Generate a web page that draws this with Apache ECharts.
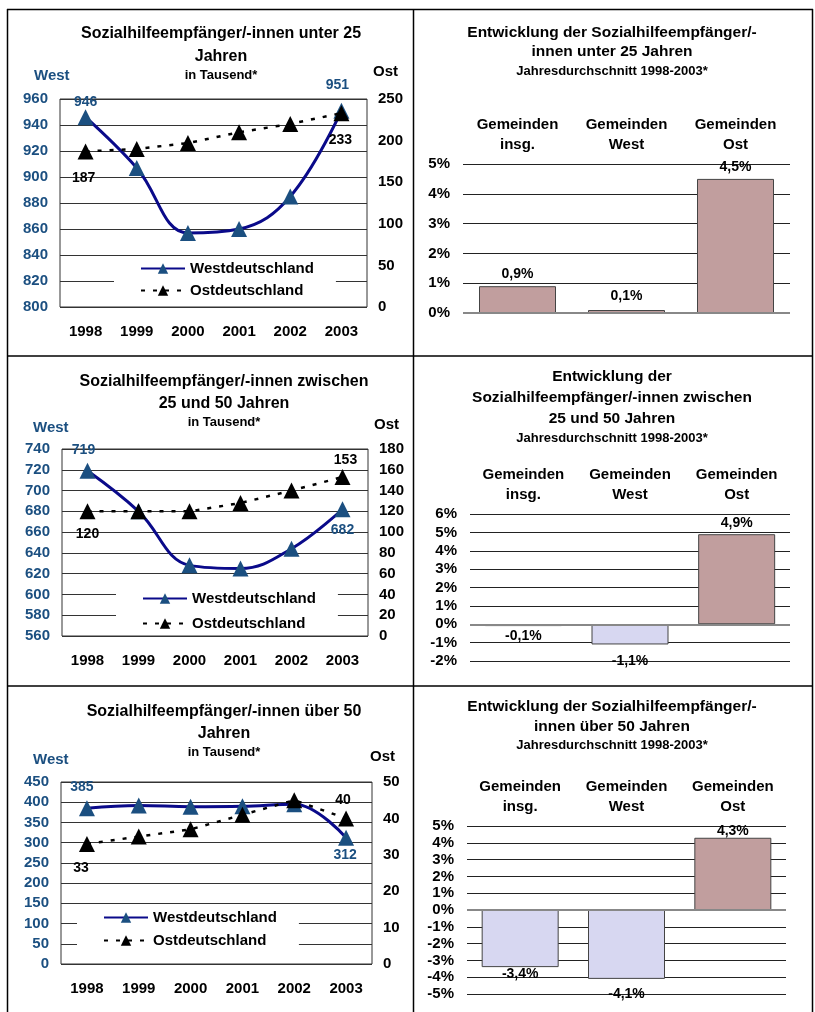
<!DOCTYPE html>
<html><head><meta charset="utf-8">
<script src="https://cdn.jsdelivr.net/npm/echarts@6/dist/echarts.min.js"></script>
<style>html,body{margin:0;padding:0;background:#fff}#c{width:815px;height:1012px}</style>
</head><body><div id="c"></div>
<script>
// ---------- data ----------
const years = ['1998', '1999', '2000', '2001', '2002', '2003'];
const westU25 = [946, 907, 857, 860, 885, 951];
const ostU25 = [187, 190, 197, 210, 220, 233];
const west2550 = [719, 680, 628, 625, 644, 682];
const ost2550 = [120, 120, 120, 128, 140, 153];
const westO50 = [385, 392, 389, 390, 395, 312];
const ostO50 = [33, 35, 37, 41, 45, 40];
const barCategories = ['Gemeinden\ninsg.', 'Gemeinden\nWest', 'Gemeinden\nOst'];
const barU25 = [0.9, 0.1, 4.5];
const bar2550 = [-0.1, -1.1, 4.9];
const barO50 = [-3.4, -4.1, 4.3];
const legendNames = ['Westdeutschland', 'Ostdeutschland'];

// ---------- styles ----------
const FF = '"Liberation Sans", Arial, sans-serif';
const BLUE = '#1b4f80';
const NAVY = '#0a0a8a';
const POS = '#c19e9e';
const NEG = '#d7d7f1';

function txt(x, y, s, size, align, color) {
  return { type: 'text', x: x, y: y, z: 100, silent: true,
    style: { text: s, fontSize: size, fontWeight: 'bold', fontFamily: FF,
      fill: color || '#000', align: align || 'center', verticalAlign: 'middle' } };
}
function ln(x1, y1, x2, y2) {
  return { type: 'line', z: 100, silent: true, shape: { x1, y1, x2, y2 },
    style: { stroke: '#000', lineWidth: 1.5 } };
}
function withLabels(vals, cfg, color) {
  return vals.map((v, i) => cfg[i] ? { value: v, label: { show: true, position: 'inside',
    offset: cfg[i], color: color, fontSize: 14, fontWeight: 'bold', fontFamily: FF } } : v);
}
function barData(vals, dist) {
  return vals.map((v, i) => ({ value: v, itemStyle: { color: v >= 0 ? POS : NEG },
    label: { position: v >= 0 ? 'top' : 'bottom', distance: dist[i] } }));
}

const grids = [
  { left: 60, top: 99, width: 307, height: 208 },
  { left: 62, top: 449, width: 306, height: 187 },
  { left: 61, top: 782, width: 311, height: 182 },
  { left: 463, top: 164, width: 327, height: 149 },
  { left: 470, top: 514, width: 320, height: 147 },
  { left: 467, top: 826, width: 319, height: 168 }
].map((g, i) => Object.assign(g, i < 3 ? { show: true, borderColor: '#333', borderWidth: 1, backgroundColor: 'transparent' } : {}));

function lineX(gi) {
  return { type: 'category', gridIndex: gi, data: years, boundaryGap: true,
    axisLine: { show: false }, axisTick: { show: false },
    axisLabel: { margin: 17, color: '#000', fontSize: 15, fontWeight: 'bold', fontFamily: FF } };
}
function barX(gi) {
  return { type: 'category', gridIndex: gi, data: barCategories, position: 'top',
    axisLine: { show: false, onZero: false }, axisTick: { show: false },
    axisLabel: { margin: 9, color: '#000', fontSize: 15, fontWeight: 'bold', fontFamily: FF, lineHeight: 20 } };
}
function westY(gi, min, max, step) {
  return { type: 'value', gridIndex: gi, min, max, interval: step, position: 'left',
    axisLine: { show: false }, axisTick: { show: false },
    splitLine: { show: true, lineStyle: { color: '#333', width: 1 } },
    axisLabel: { margin: 12, color: BLUE, fontSize: 15, fontWeight: 'bold', fontFamily: FF } };
}
function ostY(gi, min, max, step) {
  return { type: 'value', gridIndex: gi, min, max, interval: step, position: 'right',
    axisLine: { show: false }, axisTick: { show: false }, splitLine: { show: false },
    axisLabel: { margin: 11, color: '#000', fontSize: 15, fontWeight: 'bold', fontFamily: FF } };
}
function barY(gi, min, max) {
  return { type: 'value', gridIndex: gi, min, max, interval: 1,
    axisLine: { show: false }, axisTick: { show: false },
    splitLine: { show: true, lineStyle: { color: '#222', width: 1 } },
    axisLabel: { margin: 13, color: '#000', fontSize: 15, fontWeight: 'bold', fontFamily: FF, formatter: '{value}%' } };
}
function westSeries(xi, yi, data) {
  return { name: 'Westdeutschland', type: 'line', xAxisIndex: xi, yAxisIndex: yi, data,
    smooth: 0.4, symbol: 'triangle', symbolSize: 16,
    lineStyle: { color: NAVY, width: 3 }, itemStyle: { color: BLUE }, z: 3 };
}
function ostSeries(xi, yi, data) {
  return { name: 'Ostdeutschland', type: 'line', xAxisIndex: xi, yAxisIndex: yi, data,
    symbol: 'triangle', symbolSize: 16,
    lineStyle: { color: '#000', width: 2.5, type: [4, 8] }, itemStyle: { color: '#000' }, z: 4 };
}
function barSeries(xi, yi, vals, dist) {
  return { type: 'bar', xAxisIndex: xi, yAxisIndex: yi, data: barData(vals, dist), barWidth: 77,
    itemStyle: { borderColor: '#444', borderWidth: 1 },
    label: { show: true, color: '#000', fontSize: 14, fontWeight: 'bold', fontFamily: FF,
      formatter: p => p.value.toFixed(1).replace('.', ',') + '%' },
    markLine: { silent: true, symbol: 'none', label: { show: false },
      lineStyle: { color: '#888', width: 2, type: 'solid' }, data: [{ yAxis: 0 }] } };
}
function legend(left, top, gap, padTop) {
  return { data: legendNames, orient: 'vertical', left, top, itemGap: gap,
    itemWidth: 44, itemHeight: 13, backgroundColor: '#fff', padding: [padTop, 22, 4, 26],
    textStyle: { color: '#000', fontSize: 15, fontWeight: 'bold', fontFamily: FF, lineHeight: 14 },
    selectedMode: false };
}

const option = {
  animation: false,
  backgroundColor: '#fff',
  grid: grids,
  xAxis: [lineX(0), lineX(1), lineX(2), barX(3), barX(4), barX(5)],
  yAxis: [
    westY(0, 800, 960, 20), ostY(0, 0, 250, 50),
    westY(1, 560, 740, 20), ostY(1, 0, 180, 20),
    westY(2, 0, 450, 50), ostY(2, 0, 50, 10),
    barY(3, 0, 5), barY(4, -2, 6), barY(5, -5, 5)
  ],
  legend: [legend(114, 258, 7, 3), legend(116, 583, 10, 8), legend(77, 906, 8, 4)],
  series: [
    westSeries(0, 0, withLabels(westU25, { 0: [0, -15], 5: [-4, -26] }, BLUE)),
    ostSeries(0, 1, withLabels(ostU25, { 0: [-2, 27], 5: [-1, 27] }, '#000')),
    westSeries(1, 2, withLabels(west2550, { 0: [-4, -21], 5: [0, 21] }, BLUE)),
    ostSeries(1, 3, withLabels(ost2550, { 0: [0, 23], 5: [3, -17] }, '#000')),
    westSeries(2, 4, withLabels(westO50, { 0: [-5, -21], 5: [-1, 17] }, BLUE)),
    ostSeries(2, 5, withLabels(ostO50, { 0: [-6, 24], 5: [-3, -18] }, '#000')),
    barSeries(3, 6, barU25, [5, 7, 5]),
    barSeries(4, 7, bar2550, [3, 10, 4]),
    barSeries(5, 8, barO50, [0, 8, 0])
  ],
  graphic: [
    ln(7.5, 9, 7.5, 1012), ln(7, 9.5, 813, 9.5), ln(812.5, 9, 812.5, 1012),
    ln(413.5, 9, 413.5, 1012), ln(7, 356, 813, 356), ln(7, 686, 813, 686),
    txt(221, 34, 'Sozialhilfeempfänger/-innen unter 25', 16),
    txt(221, 57, 'Jahren', 16),
    txt(221, 75, 'in Tausend*', 13),
    txt(34, 76, 'West', 15, 'left', BLUE),
    txt(373, 72, 'Ost', 15, 'left'),
    txt(224, 382, 'Sozialhilfeempfänger/-innen zwischen', 16),
    txt(224, 404, '25 und 50 Jahren', 16),
    txt(224, 422, 'in Tausend*', 13),
    txt(33, 428, 'West', 15, 'left', BLUE),
    txt(374, 425, 'Ost', 15, 'left'),
    txt(224, 712, 'Sozialhilfeempfänger/-innen über 50', 16),
    txt(224, 734, 'Jahren', 16),
    txt(224, 752, 'in Tausend*', 13),
    txt(33, 760, 'West', 15, 'left', BLUE),
    txt(370, 757, 'Ost', 15, 'left'),
    txt(612, 33, 'Entwicklung der Sozialhilfeempfänger/-', 15.5),
    txt(612, 52, 'innen unter 25 Jahren', 15.5),
    txt(612, 71, 'Jahresdurchschnitt 1998-2003*', 13),
    txt(612, 377, 'Entwicklung der', 15.5),
    txt(612, 398, 'Sozialhilfeempfänger/-innen zwischen', 15.5),
    txt(612, 419, '25 und 50 Jahren', 15.5),
    txt(612, 438, 'Jahresdurchschnitt 1998-2003*', 13),
    txt(612, 707, 'Entwicklung der Sozialhilfeempfänger/-', 15.5),
    txt(612, 727, 'innen über 50 Jahren', 15.5),
    txt(612, 745, 'Jahresdurchschnitt 1998-2003*', 13)
  ]
};
const chart = echarts.init(document.getElementById('c'), null, { renderer: 'canvas' });
chart.setOption(option);
</script>
</body></html>
